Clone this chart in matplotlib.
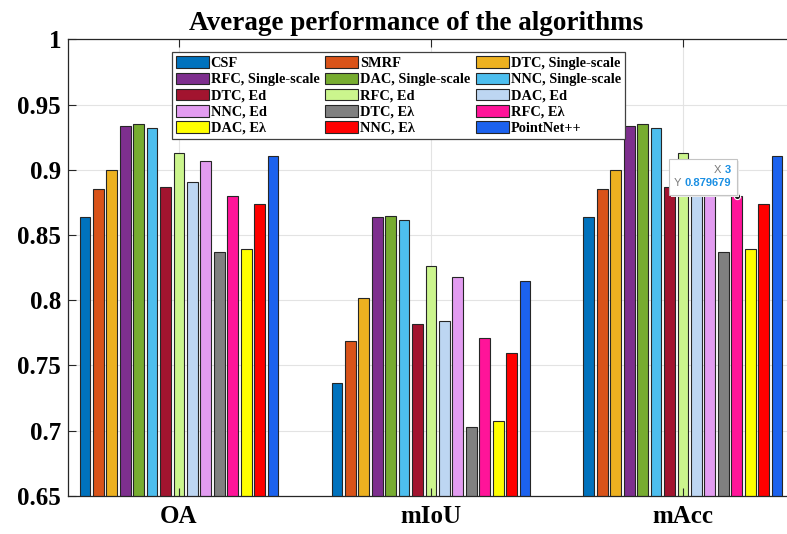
import numpy as np
import matplotlib
matplotlib.use("Agg")
import matplotlib.pyplot as plt
from matplotlib.patches import Rectangle
from matplotlib.text import Annotation

plt.rcParams['font.family'] = ['Liberation Serif', 'DejaVu Serif']
plt.rcParams['font.weight'] = 'bold'

metrics = ['OA', 'mIoU', 'mAcc']
methods = ['CSF', 'SMRF', 'DTC, Single-scale',
           'RFC, Single-scale', 'DAC, Single-scale', 'NNC, Single-scale',
           'DTC, Ed', 'RFC, Ed', 'DAC, Ed',
           'NNC, Ed', 'DTC, Eλ', 'RFC, Eλ',
           'DAC, Eλ', 'NNC, Eλ', 'PointNet++']

oa = [0.864, 0.8855, 0.8997, 0.9332, 0.9347, 0.9321, 0.887, 0.9125,
      0.8908, 0.9069, 0.837, 0.879679, 0.8393, 0.874, 0.9105]
miou = [0.7367, 0.7689, 0.8015, 0.8638, 0.8648, 0.8615, 0.7816, 0.8265,
        0.7837, 0.8176, 0.7028, 0.7707, 0.7071, 0.7594, 0.815]
macc = [0.864, 0.8855, 0.8997, 0.9332, 0.9347, 0.9321, 0.887, 0.9125,
        0.8908, 0.9069, 0.837, 0.879679, 0.8393, 0.874, 0.9105]

colors = ['#0072BD', '#D95319', '#EDB120', '#7E2F8E', '#77AC30', '#4DBEEE',
          '#A2142F', '#CBF58D', '#BDD6F2', '#E29CF0', '#808080', '#FF1499',
          '#FFFF00', '#FF0000', '#1C62EE']

vals = np.array([oa, miou, macc])  # rows: metrics, cols: methods
n = len(methods)
x = np.arange(1, len(metrics) + 1)
group_w = 0.8
slot = group_w / n
bar_w = slot * 0.8

fig = plt.figure(figsize=(7.87, 5.34), dpi=100)
ax = fig.add_axes([68 / 787, 38.3 / 534, 1 - 68 / 787, 456.4 / 534])

# grid behind the bars
yt = np.arange(0.65, 1.0001, 0.05)
for yy in yt:
    ax.axhline(yy, color='#e3e3e3', lw=0.8, zorder=0)
for xx in x:
    ax.axvline(xx, color='#e3e3e3', lw=0.8, zorder=0)

handles = []
for i in range(n):
    pos = x - group_w / 2 + (2 * i + 1) * slot / 2
    b = ax.bar(pos, vals[:, i], width=bar_w, bottom=0, color=colors[i],
               edgecolor='#262626', linewidth=0.8, label=methods[i], zorder=1)
    handles.append(b)

ax.set_xlim(0.5595, 3.413)
ax.set_ylim(0.65, 1.0)
ax.set_yticks(yt)
ax.set_yticklabels(['0.65', '0.7', '0.75', '0.8', '0.85', '0.9', '0.95', '1'])
ax.set_xticks(x)
ax.set_xticklabels(metrics)
ax.tick_params(axis='y', direction='in', length=6, width=0.8, labelsize=18,
               pad=5, colors='#262626', labelcolor='black', right=False)
ax.tick_params(axis='x', direction='in', length=5.5, width=0.8, labelsize=18,
               pad=7, colors='#262626', labelcolor='black', top=True)
ax.spines['right'].set_visible(False)
for s in ['left', 'top', 'bottom']:
    ax.spines[s].set_color('#262626')
    ax.spines[s].set_linewidth(0.9)

fig.text(416 / 787, 1 - 11 / 534, 'Average performance of the algorithms',
         ha='center', va='top', fontsize=19.5, fontweight='bold')

# legend filled row by row
order = [i for c in range(3) for i in range(c, n, 3)]
leg = ax.legend([handles[i] for i in order], [methods[i] for i in order],
                ncol=3, loc='upper left',
                bbox_to_anchor=(171.7 / 787, 1 - 52.3 / 534),
                bbox_transform=fig.transFigure, borderaxespad=0,
                fontsize=10.4, frameon=True, fancybox=False, framealpha=1,
                edgecolor='#404040', handlelength=2.3, handleheight=0.85,
                handletextpad=0.12, labelspacing=0.17, columnspacing=0.4,
                borderpad=0.28)
leg.get_frame().set_linewidth(0.9)
for t in leg.get_texts():
    t.set_fontweight('bold')

# data tip on the RFC, Eλ bar of mAcc
k = methods.index('RFC, Eλ')
xd = x[2] - group_w / 2 + (2 * k + 1) * slot / 2
yd = vals[2, k]
ax.plot(xd, yd, 'o', ms=4.5, mfc='#1a1a1a', mec='white', mew=0.8, zorder=6)

px, py = ax.transData.transform((xd, yd))
W, H = 787.0, 534.0
bx0, by0, bw, bh = px - 68, py + 1.5, 68, 36
fig.add_artist(Rectangle(((bx0 + 2) / W, (by0 - 2) / H), bw / W, bh / H,
                         transform=fig.transFigure, facecolor='#ececec',
                         edgecolor='none', zorder=7))
fig.add_artist(Rectangle((bx0 / W, by0 / H), bw / W, bh / H,
                         transform=fig.transFigure, facecolor='white',
                         edgecolor='#c4c4c4', linewidth=0.8, zorder=8))
tip_font = dict(family=['Liberation Sans', 'DejaVu Sans'], fontsize=8, zorder=9)
tx = (bx0 + bw - 6) / W
t1 = fig.text(tx, (by0 + 22) / H, '3', ha='right', va='baseline',
              color='#1A8FE3', fontweight='bold', **tip_font)
t2 = fig.text(tx, (by0 + 9) / H, f'{yd:.6f}', ha='right', va='baseline',
              color='#1A8FE3', fontweight='bold', **tip_font)
for t, lab in [(t1, 'X'), (t2, 'Y')]:
    fig.add_artist(Annotation(lab, xy=(0, 0), xycoords=t, xytext=(-2.5, 0),
                              textcoords='offset points', ha='right',
                              va='bottom', color='#7a7a7a',
                              fontweight='normal', **tip_font))

fig.savefig('out.png', dpi=100)
